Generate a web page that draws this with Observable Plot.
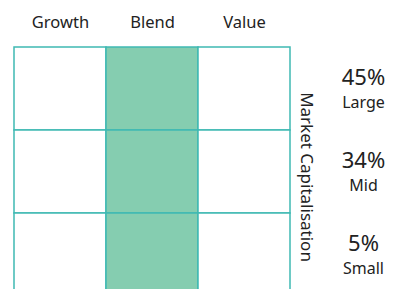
<!DOCTYPE html>
<html><head><meta charset="utf-8">
<script src="https://cdn.jsdelivr.net/npm/d3@7"></script>
<script src="https://cdn.jsdelivr.net/npm/@observablehq/plot@0.6"></script>
<style>body{margin:0;background:#fff;font-family:"Noto Sans",sans-serif}</style>
</head><body><div id="chart"></div>
<script>
const styles = ["Growth", "Blend", "Value"];
const sizes = ["Large", "Mid", "Small"];
const sizePct = [45, 34, 5];
const filledStyle = "Blend";
const axisTitle = "Market Capitalisation";

const cells = [];
for (const s of sizes) for (const st of styles) cells.push({size: s, style: st, filled: st === filledStyle});
const rows = sizes.map((s, i) => ({size: s, pct: sizePct[i] + "%"}));

const chart = Plot.plot({
  width: 394, height: 289,
  marginLeft: 14, marginRight: 104, marginTop: 46, marginBottom: -8,
  style: {fontFamily: "'Noto Sans', sans-serif", color: "#222", background: "#fff"},
  x: {domain: styles, padding: 0, axis: null},
  y: {domain: sizes, padding: 0, axis: null},
  marks: [
    Plot.cell(cells, {x: "style", y: "size", fill: d => d.filled ? "#85cdb0" : "#fff", stroke: "#3fb9b3", strokeWidth: 1.5}),
    Plot.text(styles, {x: d => d, frameAnchor: "top", lineAnchor: "middle", dy: -24, fontSize: 16.5, fill: "#222"}),
    Plot.text(rows, {y: "size", text: "pct", frameAnchor: "right", textAnchor: "middle", dx: 73, dy: -11, fontSize: 22, fill: "#222"}),
    Plot.text(rows, {y: "size", text: "size", frameAnchor: "right", textAnchor: "middle", dx: 73, dy: 14, fontSize: 16, fill: "#222"}),
    Plot.text([axisTitle], {text: d => d, frameAnchor: "right", textAnchor: "middle", rotate: 90, dx: 16, dy: 5, fontSize: 17, fill: "#222"})
  ]
});
document.getElementById("chart").appendChild(chart);
</script></body></html>
